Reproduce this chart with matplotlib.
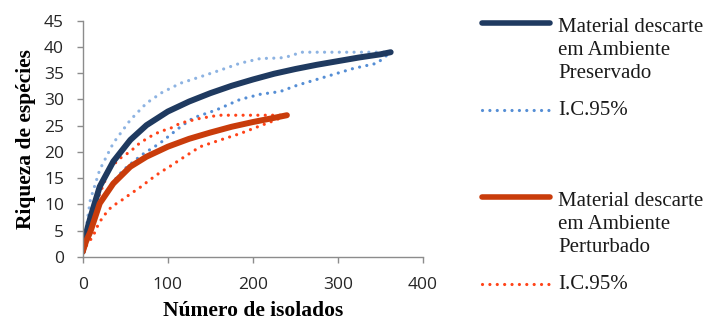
import matplotlib.pyplot as plt
from matplotlib.lines import Line2D

# curva de rarefação - ambiente preservado
pres_x = [0, 4, 9, 20, 36, 56, 75, 100, 125, 150, 175, 200, 225, 250, 275, 300, 325, 350, 362]
pres_y = [1, 4.5, 7.5, 13.4, 18.2, 22.3, 25.1, 27.7, 29.6, 31.2, 32.6, 33.8, 34.9, 35.8, 36.6, 37.3, 38, 38.6, 39]
pres_sup_x = [0, 9, 20, 36, 56, 75, 93, 115, 138, 162, 185, 209, 232, 245, 256, 362]
pres_sup_y = [1, 10.9, 16.6, 21.7, 26.1, 29.3, 31.3, 33.1, 34.3, 35.6, 36.9, 37.8, 37.9, 38.3, 39, 39]
pres_inf_x = [0, 10, 20, 35, 48, 69, 91, 115, 130, 157, 185, 209, 232, 252, 279, 318, 346, 362]
pres_inf_y = [1, 6, 10.5, 14.2, 16.6, 19.4, 21.7, 24.8, 26.5, 28, 30, 31, 31.5, 32.7, 34, 35.9, 36.9, 39]

# curva de rarefação - ambiente perturbado
pert_x = [0, 4, 9, 20, 36, 56, 75, 100, 125, 150, 175, 200, 225, 240]
pert_y = [1, 3, 4.8, 10.2, 14, 17.2, 19.1, 21, 22.5, 23.7, 24.8, 25.7, 26.5, 27]
pert_sup_x = [0, 9, 20, 32, 44, 56, 67, 79, 91, 103, 115, 138, 160, 240]
pert_sup_y = [1, 7, 12, 16.9, 18.8, 20.1, 21.7, 22.9, 23.9, 24.5, 25.5, 26.4, 27, 27]
pert_inf_x = [0, 6, 12, 18, 24, 34, 44, 56, 67, 79, 91, 103, 115, 138, 162, 185, 209, 227, 240]
pert_inf_y = [1, 2.6, 3.9, 6.1, 7.7, 9.6, 10.6, 12, 13.2, 14.7, 16.1, 17.3, 18.6, 21, 22.3, 23.5, 25, 26.1, 27]

azul = '#1f3a60'
azul_ic_sup = '#8db3e2'
azul_ic_inf = '#558ed5'
vermelho = '#c93c0b'
vermelho_ic = '#ff4318'

W, H = 713, 325
fig = plt.figure(figsize=(W / 100, H / 100), dpi=100)
ax = fig.add_axes([82.7 / W, 1 - 257 / H, (423 - 82.7) / W, (257 - 20.7) / H])

pontilhado = dict(linestyle=(0, (0.01, 2.3)), dash_capstyle='round', lw=2.3)

ax.plot(pres_sup_x, pres_sup_y, color=azul_ic_sup, **pontilhado)
ax.plot(pres_inf_x, pres_inf_y, color=azul_ic_inf, **pontilhado)
ax.plot(pert_sup_x, pert_sup_y, color=vermelho_ic, **pontilhado)
ax.plot(pert_inf_x, pert_inf_y, color=vermelho_ic, **pontilhado)
ax.plot(pres_x, pres_y, color=azul, lw=4.3, solid_capstyle='round')
ax.plot(pert_x, pert_y, color=vermelho, lw=4.3, solid_capstyle='round')

ax.set_xlim(0, 400)
ax.set_ylim(0, 45)
ax.set_xticks([0, 100, 200, 300, 400])
ax.set_yticks(range(0, 46, 5))

for lado in ['top', 'right']:
    ax.spines[lado].set_visible(False)
for lado in ['left', 'bottom']:
    ax.spines[lado].set_color('#8c8c8c')
    ax.spines[lado].set_linewidth(1)

ax.tick_params(axis='both', direction='out', length=4.5, width=1, color='#8c8c8c',
               labelsize=12.5, labelcolor='#262626')
ax.tick_params(axis='y', pad=9)
ax.tick_params(axis='x', pad=10)
for lbl in ax.get_xticklabels() + ax.get_yticklabels():
    lbl.set_fontfamily('Open Sans')

ax.set_ylabel('Riqueza de espécies', fontfamily='Liberation Serif', fontweight='bold',
              fontsize=15.5)
ax.yaxis.set_label_coords(-47 / 340.3, 0.5)
ax.set_xlabel('Número de isolados', fontfamily='Liberation Serif', fontweight='bold',
              fontsize=15.5, va='bottom')
ax.xaxis.set_label_coords(0.5, -64 / 236.3)

# legenda montada à mão, com o espaço maior entre os dois grupos
def px(x, y):
    return x / W, 1 - y / H

entradas = [
    (23, 5, dict(color=azul, lw=4, solid_capstyle='round'), 'Material descarte\nem Ambiente\nPreservado'),
    (110, 9, dict(color=azul_ic_inf, **pontilhado), 'I.C.95%'),
    (197, 5, dict(color=vermelho, lw=4, solid_capstyle='round'), 'Material descarte\nem Ambiente\nPerturbado'),
    (284, 9, dict(color=vermelho_ic, **pontilhado), 'I.C.95%'),
]
for y, dy, estilo, texto in entradas:
    (x0, yf), (x1, _) = px(482, y), px(550, y)
    fig.add_artist(Line2D([x0, x1], [yf, yf], transform=fig.transFigure, **estilo))
    tx, ty = px(558, y - dy)
    fig.text(tx, ty, texto, ha='left', va='top', fontfamily='Liberation Serif',
             fontsize=15, linespacing=1.3, color='#1a1a1a')

fig.savefig('out.png', dpi=100)
